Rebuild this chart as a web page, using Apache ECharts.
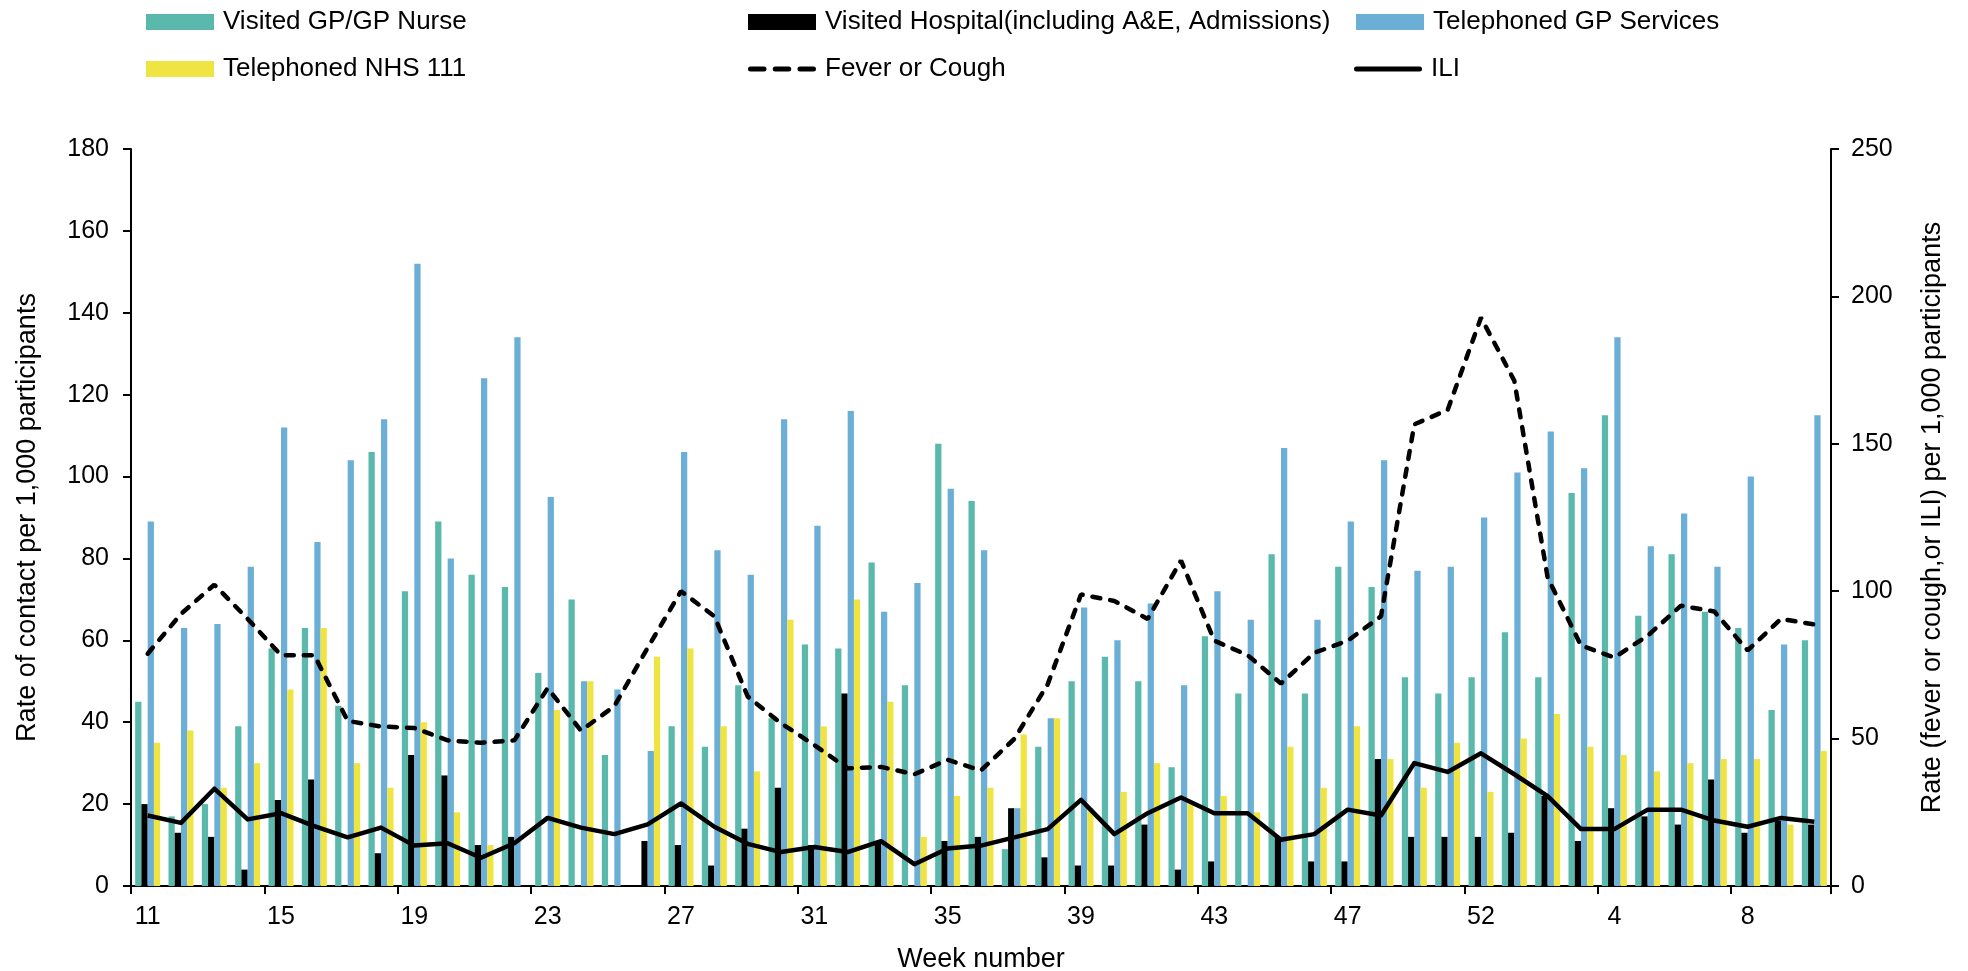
<!DOCTYPE html>
<html>
<head>
<meta charset="utf-8">
<script src="https://cdn.jsdelivr.net/npm/echarts@6/dist/echarts.min.js"></script>
<style>
html,body{margin:0;padding:0;background:#fff;}
#chart{width:1968px;height:971px;}
</style>
</head>
<body>
<div id="chart"></div>
<script>
// Week numbers (categories)
var weeks = ['11','12','13','14','15','16','17','18','19','20','21','22','23','24','25','26','27','28','29','30',
  '31','32','33','34','35','36','37','38','39','40','41','42','43','44','45','46','47','48','49','50',
  '52','1','2','3','4','5','6','7','8','9','10'];

// Bars: rate of contact per 1,000 participants (left axis)
var visitedGP = [45,17,20,39,58,63,44,106,72,89,76,73,52,70,32,0,39,34,49,41,
  59,58,79,49,108,94,9,34,50,56,50,29,61,47,81,47,78,73,51,47,
  51,62,51,96,115,66,81,67,63,43,60];
var visitedHospital = [20,13,12,4,21,26,0,8,32,27,10,12,0,0,0,11,10,5,14,24,
  10,47,11,0,11,12,19,7,5,5,15,4,6,0,12,6,6,31,12,12,
  12,13,22,11,19,17,15,26,13,16,15];
var telephonedGP = [89,63,64,78,112,84,104,114,152,80,124,134,95,50,48,33,106,82,76,114,
  88,116,67,74,97,82,19,41,68,60,69,49,72,65,107,65,89,104,77,78,
  90,101,111,102,134,83,91,78,100,59,115];
var telephonedNHS111 = [35,38,24,30,48,63,30,24,40,18,10,0,43,50,0,56,58,39,28,65,
  39,70,45,12,22,24,37,41,19,23,30,20,22,18,34,24,39,31,24,35,
  23,36,42,34,32,28,30,31,31,15,33];

// Lines: rate per 1,000 participants (right axis)
var feverOrCough = [78.8,92.3,102.2,90.6,78.3,78.3,56.0,54.1,53.6,49.4,48.6,49.4,67.1,52.7,61.0,80.8,100.0,91.5,64.3,55.2,
  47.8,39.9,40.4,37.9,42.8,39.2,49.9,68.4,98.9,96.7,90.6,110.4,83.2,78.3,68.7,79.1,83.2,91.5,156.6,161.5,
  192.8,171.4,104.6,81.6,77.5,84.9,95.1,93.1,79.9,90.6,88.7];
var ili = [23.9,21.4,33.0,22.6,24.7,20.3,16.5,19.8,13.7,14.5,9.6,14.5,23.1,19.8,17.6,20.9,28.0,20.1,14.3,11.5,
  13.2,11.5,15.2,7.4,12.7,13.7,16.5,19.3,29.2,17.6,24.7,30.0,24.7,24.7,15.7,17.6,25.9,23.9,41.7,38.7,
  45.0,37.9,30.5,19.3,19.3,25.9,25.9,22.2,20.1,23.1,21.8];

var names = ['Visited GP/GP Nurse','Visited Hospital(including A&E, Admissions)','Telephoned GP Services',
  'Telephoned NHS 111','Fever or Cough','ILI'];
var colors = ['#5AB8AC','#000000','#6BAED6','#F0E442'];

var FONT = 'Liberation Sans, Arial, sans-serif';
var chart = echarts.init(document.getElementById('chart'), null, {renderer:'canvas'});

var DASH_ICON = 'path://M2.5,0h13a2.5,2.5 0 0 1 0,5h-13a2.5,2.5 0 0 1 0,-5z' +
  'M26.5,0h13a2.5,2.5 0 0 1 0,5h-13a2.5,2.5 0 0 1 0,-5z' +
  'M50.5,0h13a2.5,2.5 0 0 1 0,5h-13a2.5,2.5 0 0 1 0,-5z';
var SOLID_ICON = 'path://M2.5,0h63a2.5,2.5 0 0 1 0,5h-63a2.5,2.5 0 0 1 0,-5z';

function leg(name, left, top, icon, h){
  return {
    data:[{name:name, icon:icon}], left:left, top:top, padding:0,
    itemWidth:68, itemHeight:h, itemGap:0, symbolKeepAspect:false,
    textStyle:{fontFamily:FONT, fontSize:26, color:'#000', padding:[0,0,0,4]},
    selectedMode:false
  };
}

function bar(i, data){
  return {
    name:names[i], type:'bar', data:data, yAxisIndex:0,
    barGap:'0%', barCategoryGap:'25%',
    itemStyle:{color:colors[i]}, animation:false
  };
}

var option = {
  backgroundColor:'#fff',
  animation:false,
  textStyle:{fontFamily:FONT},
  legend:[
    leg(names[0],146,9,'rect',16), leg(names[1],748,9,'rect',16), leg(names[2],1356,9,'rect',16),
    leg(names[3],146,56,'rect',16), leg(names[4],748,56,DASH_ICON,5), leg(names[5],1354,56,SOLID_ICON,5)
  ],
  grid:{left:131, right:137, top:149, bottom:85, containLabel:false, outerBoundsMode:'none'},
  xAxis:{
    type:'category', data:weeks, boundaryGap:true,
    name:'Week number', nameLocation:'middle', nameGap:60,
    nameTextStyle:{fontFamily:FONT, fontSize:27, color:'#000'},
    axisLine:{lineStyle:{color:'#000', width:2}},
    axisTick:{show:true, interval:3, length:8, alignWithLabel:false, lineStyle:{color:'#000', width:2}},
    axisLabel:{interval:3, fontFamily:FONT, fontSize:25, color:'#000', margin:19},
    splitLine:{show:false}
  },
  yAxis:[
    {
      type:'value', min:0, max:180, interval:20, position:'left',
      name:'Rate of contact per 1,000 participants', nameLocation:'middle', nameGap:90, nameRotate:90,
      nameTextStyle:{fontFamily:FONT, fontSize:27, color:'#000'},
      axisLine:{show:true, lineStyle:{color:'#000', width:2}},
      axisTick:{show:true, length:8, lineStyle:{color:'#000', width:2}},
      axisLabel:{fontFamily:FONT, fontSize:25, color:'#000', margin:22},
      splitLine:{show:false}
    },
    {
      type:'value', min:0, max:250, interval:50, position:'right',
      name:'Rate (fever or cough,or ILI) per 1,000 participants', nameLocation:'middle', nameGap:88, nameRotate:90,
      nameTextStyle:{fontFamily:FONT, fontSize:27, color:'#000'},
      axisLine:{show:true, lineStyle:{color:'#000', width:2}},
      axisTick:{show:true, length:8, lineStyle:{color:'#000', width:2}},
      axisLabel:{fontFamily:FONT, fontSize:25, color:'#000', margin:20},
      splitLine:{show:false}
    }
  ],
  series:[
    bar(0, visitedGP),
    bar(1, visitedHospital),
    bar(2, telephonedGP),
    bar(3, telephonedNHS111),
    {
      name:names[4], type:'line', data:feverOrCough, yAxisIndex:1,
      symbol:'none', showSymbol:false, smooth:false, z:5,
      lineStyle:{color:'#000', width:4.5, type:[8,10], cap:'round'},
      itemStyle:{color:'#000'}
    },
    {
      name:names[5], type:'line', data:ili, yAxisIndex:1,
      symbol:'none', showSymbol:false, smooth:false, z:5,
      lineStyle:{color:'#000', width:4.5, join:'round'},
      itemStyle:{color:'#000'}
    }
  ]
};
chart.setOption(option);
</script>
</body>
</html>
